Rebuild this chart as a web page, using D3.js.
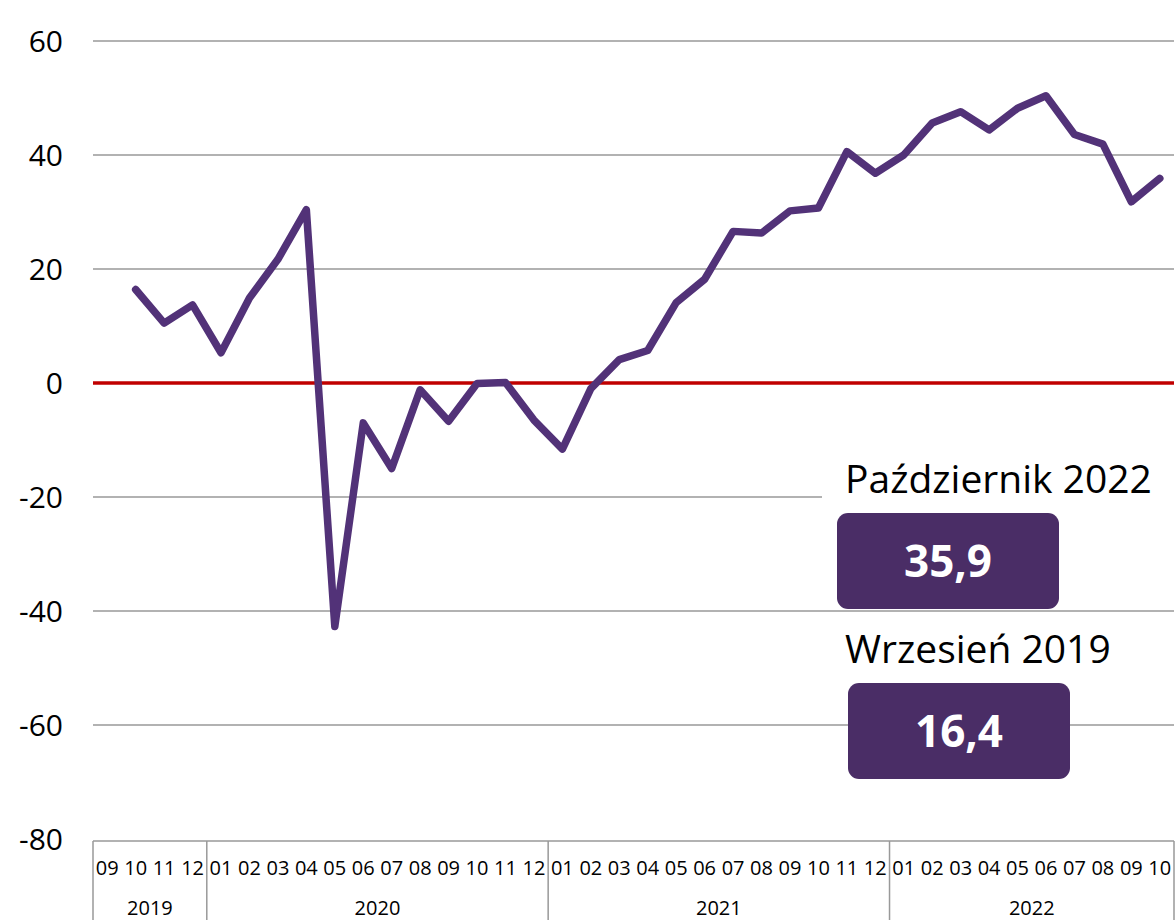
<!DOCTYPE html>
<html>
<head>
<meta charset="utf-8">
<script src="https://cdn.jsdelivr.net/npm/d3@7"></script>
<style>
  body { margin: 0; background: #fff; }
  svg { display: block; font-family: "Open Sans", "Noto Sans", sans-serif; }
</style>
</head>
<body>
<svg id="chart" width="1176" height="920"></svg>
<script>
// months on the x axis (Sep 2019 .. Oct 2022)
const years = ['2019', '2020', '2021', '2022'];
const monthsPerYear = [
  ['09', '10', '11', '12'],
  ['01', '02', '03', '04', '05', '06', '07', '08', '09', '10', '11', '12'],
  ['01', '02', '03', '04', '05', '06', '07', '08', '09', '10', '11', '12'],
  ['01', '02', '03', '04', '05', '06', '07', '08', '09', '10'],
];
// index values; the line in the source starts one slot in, first slot empty
const values = [
  null, 16.4, 10.5, 13.7, 5.3, 14.9, 21.7, 30.4, -42.7, -7.0, -15.0, -1.2, -6.7,
  -0.1, 0.1, -6.5, -11.6, -1.0, 4.1, 5.7, 14.1, 18.2, 26.6, 26.3, 30.2, 30.7,
  40.6, 36.8, 40.0, 45.6, 47.6, 44.4, 48.2, 50.4, 43.6, 41.9, 31.8, 35.9,
];
const yTicks = [60, 40, 20, 0, -20, -40, -60, -80];
const callouts = [
  { title: 'Październik 2022', value: '35,9' },
  { title: 'Wrzesień 2019', value: '16,4' },
];

const categories = [];
monthsPerYear.forEach((ms, yi) => ms.forEach(m => categories.push(`${years[yi]}-${m}`)));

const svg = d3.select('#chart');

const x = d3.scaleBand().domain(categories).range([93, 1174]).padding(0);
const y = d3.scaleLinear().domain([-80, 60]).range([839, 41]);
const xc = d => x(d) + x.bandwidth() / 2;

// gridlines
svg.append('g')
  .selectAll('line')
  .data(yTicks.filter(t => t !== 0 && t !== -80))
  .enter().append('line')
    .attr('x1', 93).attr('x2', 1174)
    .attr('y1', d => y(d)).attr('y2', d => y(d))
    .attr('stroke', '#999').attr('stroke-width', 1.5);

// y tick labels
svg.append('g')
  .selectAll('text')
  .data(yTicks)
  .enter().append('text')
    .attr('x', 63)
    .attr('y', d => y(d))
    .attr('dy', '0.36em')
    .attr('text-anchor', 'end')
    .attr('font-size', 30)
    .attr('fill', '#000')
    .text(d => d);

// zero line
svg.append('line')
  .attr('x1', 93).attr('x2', 1174)
  .attr('y1', y(0)).attr('y2', y(0))
  .attr('stroke', '#c00000').attr('stroke-width', 3.5);

// series line
const line = d3.line()
  .defined(d => d.v !== null)
  .x(d => xc(d.c))
  .y(d => y(d.v));

svg.append('path')
  .datum(categories.map((c, i) => ({ c, v: values[i] })))
  .attr('d', line)
  .attr('fill', 'none')
  .attr('stroke', '#523278')
  .attr('stroke-width', 7.5)
  .attr('stroke-linejoin', 'round')
  .attr('stroke-linecap', 'round');

// x axis box
const axisTop = 841;
const axis = svg.append('g').attr('stroke', '#999').attr('stroke-width', 1.5);
axis.append('line').attr('x1', 93).attr('x2', 1174).attr('y1', axisTop).attr('y2', axisTop);

let start = 0;
const yearSpans = monthsPerYear.map((ms, yi) => {
  const span = { year: years[yi], first: categories[start], last: categories[start + ms.length - 1] };
  start += ms.length;
  return span;
});

axis.selectAll('line.div')
  .data([...yearSpans.map(s => x(s.first)), 1174])
  .enter().append('line')
    .attr('class', 'div')
    .attr('x1', d => d).attr('x2', d => d)
    .attr('y1', axisTop).attr('y2', 920);

svg.append('g')
  .selectAll('text')
  .data(categories)
  .enter().append('text')
    .attr('x', d => xc(d))
    .attr('y', 868)
    .attr('dy', '0.35em')
    .attr('text-anchor', 'middle')
    .attr('font-size', 20)
    .text(d => d.split('-')[1]);

svg.append('g')
  .selectAll('text')
  .data(yearSpans)
  .enter().append('text')
    .attr('x', d => (x(d.first) + x(d.last) + x.bandwidth()) / 2)
    .attr('y', 908)
    .attr('dy', '0.35em')
    .attr('text-anchor', 'middle')
    .attr('font-size', 20)
    .text(d => d.year);

// callouts
const boxes = [
  { tx: 845, ty: 493, bx: 837, by: 513 },
  { tx: 845, ty: 663, bx: 848, by: 683 },
];
const call = svg.append('g');
callouts.forEach((c, i) => {
  const b = boxes[i];
  if (i === 0) {
    call.append('rect')
      .attr('x', 822).attr('y', 455).attr('width', 354).attr('height', 48)
      .attr('fill', '#fff');
  }
  call.append('text')
    .attr('x', b.tx).attr('y', b.ty)
    .attr('font-size', 39)
    .attr('fill', '#000')
    .text(c.title);
  call.append('rect')
    .attr('x', b.bx).attr('y', b.by)
    .attr('width', 222).attr('height', 96)
    .attr('rx', 11)
    .attr('fill', '#4a2d66');
  call.append('text')
    .attr('x', b.bx + 111).attr('y', b.by + 48)
    .attr('dy', '0.36em')
    .attr('text-anchor', 'middle')
    .attr('font-size', 44)
    .attr('font-weight', 700)
    .attr('fill', '#fff')
    .text(c.value);
});
</script>
</body>
</html>
